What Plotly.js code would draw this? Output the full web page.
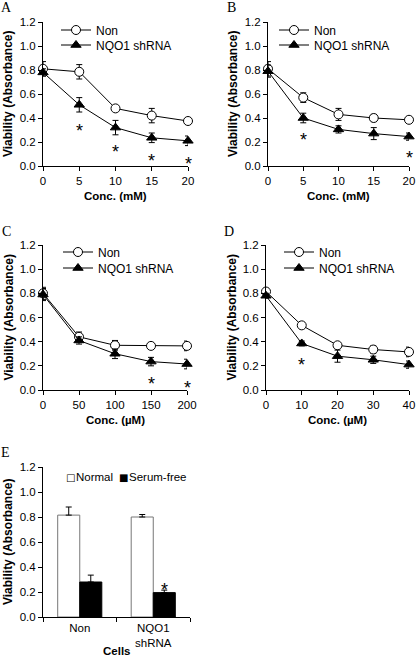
<!DOCTYPE html>
<html><head><meta charset="utf-8">
<script src="https://cdn.plot.ly/plotly-3.0.1.min.js"></script>
<style>html,body{margin:0;padding:0;background:#fff}</style>
</head><body><div id="chart" style="width:416px;height:659px"></div>
<script>
// ---- data ----
var concA = [0, 5, 10, 15, 20];          // mM
var nonA = [0.81, 0.785, 0.48, 0.42, 0.375];
var nonAerr = [0.06, 0.06, 0.02, 0.06, 0.02];
var shA = [0.78, 0.51, 0.32, 0.235, 0.21];
var shAerr = [0.03, 0.06, 0.06, 0.04, 0.04];
var starA_x = [5, 10, 15, 20];
var starA_y = [0.33, 0.16, 0.08, 0.06];

var concB = [0, 5, 10, 15, 20];          // mM
var nonB = [0.81, 0.57, 0.43, 0.40, 0.385];
var nonBerr = [0.06, 0.04, 0.05, 0.03, 0.02];
var shB = [0.79, 0.40, 0.305, 0.27, 0.245];
var shBerr = [0.05, 0.04, 0.03, 0.05, 0.03];
var starB_x = [5, 20];
var starB_y = [0.26, 0.11];

var concC = [0, 50, 100, 150, 200];      // uM
var nonC = [0.80, 0.44, 0.37, 0.365, 0.365];
var nonCerr = [0.05, 0.04, 0.04, 0.02, 0.04];
var shC = [0.79, 0.41, 0.30, 0.235, 0.215];
var shCerr = [0.05, 0.03, 0.04, 0.035, 0.04];
var starC_x = [150, 200];
var starC_y = [0.09, 0.06];

var concD = [0, 10, 20, 30, 40];         // uM
var nonD = [0.815, 0.535, 0.37, 0.335, 0.315];
var nonDerr = [0.02, 0.02, 0.02, 0.03, 0.04];
var shD = [0.78, 0.385, 0.28, 0.25, 0.21];
var shDerr = [0.02, 0.02, 0.05, 0.03, 0.03];
var starD_x = [10];
var starD_y = [0.25];

var cellsE = ['Non', 'NQO1<br>shRNA'];
var normalE = [0.815, 0.80];
var normalEerr = [0.065, 0.02];
var serumE = [0.28, 0.195];
var serumEerr = [0.055, 0.02];
var starE_y = 0.26;

var seriesNames = ['Non', 'NQO1 shRNA'];
var barNames = ['Normal', 'Serum-free'];
var yTicks = [0, 0.2, 0.4, 0.6, 0.8, 1.0, 1.2];

// ---- layout helpers ----
var W = 416, H = 659;
function px(x){ return x / W; }
function py(y){ return 1 - y / H; }
var FONT = 'Liberation Sans, Arial, sans-serif';
var SERIF = 'Liberation Serif, Times New Roman, serif';

var panels = [
  {key:'', xs:[43,188], ys:[22,166], x:concA, non:nonA, nonE:nonAerr, sh:shA, shE:shAerr, sx:starA_x, sy:starA_y, dtick:5, xt:'Conc. (mM)', letter:'A', leg:[56,30,45]},
  {key:'2', xs:[268,409], ys:[22,166], x:concB, non:nonB, nonE:nonBerr, sh:shB, shE:shBerr, sx:starB_x, sy:starB_y, dtick:5, xt:'Conc. (mM)', letter:'B', leg:[274,30,45]},
  {key:'3', xs:[43,187], ys:[245,390], x:concC, non:nonC, nonE:nonCerr, sh:shC, shE:shCerr, sx:starC_x, sy:starC_y, dtick:50, xt:'Conc. (\u00b5M)', letter:'C', leg:[58,252,268]},
  {key:'4', xs:[266,409], ys:[245,390], x:concD, non:nonD, nonE:nonDerr, sh:shD, shE:shDerr, sx:starD_x, sy:starD_y, dtick:10, xt:'Conc. (\u00b5M)', letter:'D', leg:[279,252,268]}
];

var traces = [];
var layout = {
  width: W, height: H, margin:{l:0,r:0,t:0,b:0},
  paper_bgcolor:'#fff', plot_bgcolor:'rgba(0,0,0,0)',
  font:{family:FONT, size:11.5, color:'#000'},
  annotations: [], showlegend: true, barmode:'group', bargap:0.4, bargroupgap:0
};

function axisY(ys, anchor){
  return {domain:[py(ys[1]), py(ys[0])], range:[0,1.2], tickvals:yTicks, tickformat:'.1f',
    ticks:'outside', ticklen:4, tickcolor:'#000', showline:true, linecolor:'#000', linewidth:1,
    showgrid:false, zeroline:false, anchor:anchor, tickfont:{size:11.5}, fixedrange:true};
}

var legIdx = 1;
function legName(){ var n = legIdx === 1 ? 'legend' : 'legend' + legIdx; legIdx++; return n; }
function addLegend(name, xpx, ypx){
  layout[name] = {x:px(xpx), y:py(ypx), xanchor:'left', yanchor:'middle', bgcolor:'rgba(0,0,0,0)',
    borderwidth:0, font:{size:12, family:FONT}, itemwidth:30, tracegroupgap:0, itemclick:false, itemdoubleclick:false};
}

panels.forEach(function(p){
  var xa = 'x' + p.key, ya = 'y' + p.key;
  layout['xaxis' + p.key] = {domain:[px(p.xs[0]), px(p.xs[1])], range:[0, p.x[p.x.length-1]], dtick:p.dtick,
    ticks:'outside', ticklen:4, tickcolor:'#000', showline:true, linecolor:'#000', linewidth:1,
    showgrid:false, zeroline:false, anchor:ya, tickfont:{size:11.5}, fixedrange:true};
  layout['yaxis' + p.key] = axisY(p.ys, xa);
  var l1 = legName(), l2 = legName();
  addLegend(l1, p.leg[0], p.leg[1]);
  addLegend(l2, p.leg[0], p.leg[2]);
  traces.push({type:'scatter', mode:'lines+markers', x:p.x, y:p.non, xaxis:xa, yaxis:ya, name:seriesNames[0],
    legend:l1, cliponaxis:false,
    line:{color:'#000', width:1}, marker:{symbol:'circle', size:9, color:'#fff', line:{color:'#000', width:1}},
    error_y:{type:'data', array:p.nonE, visible:true, color:'#000', thickness:1, width:3}});
  traces.push({type:'scatter', mode:'lines+markers', x:p.x, y:p.sh, xaxis:xa, yaxis:ya, name:seriesNames[1],
    legend:l2, cliponaxis:false,
    line:{color:'#000', width:1}, marker:{symbol:'triangle-up', size:9, color:'#000', line:{color:'#000', width:1}},
    error_y:{type:'data', array:p.shE, visible:true, color:'#000', thickness:1, width:3}});
  p.sx.forEach(function(sx, i){
    layout.annotations.push({x:sx, y:p.sy[i], xref:xa, yref:ya, text:'*', showarrow:false,
      font:{size:18, family:FONT}, yshift:-5});
  });
  var cx = (p.xs[0] + p.xs[1]) / 2, cy = (p.ys[0] + p.ys[1]) / 2;
  layout.annotations.push({x:px(cx), y:py(p.ys[1] + 30), xref:'paper', yref:'paper', text:'<b>' + p.xt + '</b>',
    showarrow:false, font:{size:11.5, family:FONT}, xanchor:'center', yanchor:'middle'});
  layout.annotations.push({x:px(p.xs[0] - 35), y:py(cy), xref:'paper', yref:'paper', text:'<b>Viability (Absorbance)</b>',
    showarrow:false, textangle:-90, font:{size:12, family:FONT}, xanchor:'center', yanchor:'middle'});
  layout.annotations.push({x:px(p.xs[0] - 37), y:py(p.ys[0] - 14), xref:'paper', yref:'paper', text:p.letter,
    showarrow:false, font:{size:14, family:SERIF}, xanchor:'center', yanchor:'middle'});
});

// Panel E
var eXs = [43,190], eYs = [467,617];
layout.xaxis5 = {domain:[px(eXs[0]), px(eXs[1])], range:[-0.5,1.5], type:'category', tickson:'boundaries',
  ticks:'outside', ticklen:4, tickcolor:'#000', showline:true, linecolor:'#000', linewidth:1,
  showgrid:false, zeroline:false, anchor:'y5', tickfont:{size:11.5}, fixedrange:true};
layout.yaxis5 = axisY(eYs, 'x5');
traces.push({type:'bar', x:cellsE, y:normalE, xaxis:'x5', yaxis:'y5', name:barNames[0], showlegend:false,
  marker:{color:'#fff', line:{color:'#777', width:1}},
  error_y:{type:'data', symmetric:false, array:normalEerr, arrayminus:[0,0], visible:true, color:'#000', thickness:1, width:3}});
traces.push({type:'bar', x:cellsE, y:serumE, xaxis:'x5', yaxis:'y5', name:barNames[1], showlegend:false,
  marker:{color:'#000', line:{color:'#000', width:1}},
  error_y:{type:'data', symmetric:false, array:serumEerr, arrayminus:[0,0], visible:true, color:'#000', thickness:1, width:3}});
// legend for E, drawn as text
layout.annotations.push({x:px(70), y:py(477), xref:'paper', yref:'paper', text:'\u25a1', showarrow:false,
  font:{size:10, family:'DejaVu Sans'}, xanchor:'center', yanchor:'middle'});
layout.annotations.push({x:px(74), y:py(477), xref:'paper', yref:'paper', text:barNames[0], showarrow:false,
  font:{size:11.5, family:FONT}, xanchor:'left', yanchor:'middle'});
layout.annotations.push({x:px(123), y:py(477), xref:'paper', yref:'paper', text:'\u25a0', showarrow:false,
  font:{size:10, family:'DejaVu Sans'}, xanchor:'center', yanchor:'middle'});
layout.annotations.push({x:px(127), y:py(477), xref:'paper', yref:'paper', text:barNames[1], showarrow:false,
  font:{size:11.5, family:FONT}, xanchor:'left', yanchor:'middle'});

layout.annotations.push({x:1, y:starE_y, xref:'x5', yref:'y5', text:'*', showarrow:false, xshift:11,
  font:{size:18, family:FONT}, yshift:-5});
layout.annotations.push({x:px((eXs[0]+eXs[1])/2), y:py(651), xref:'paper', yref:'paper', text:'<b>Cells</b>',
  showarrow:false, font:{size:11.5, family:FONT}, xanchor:'center', yanchor:'middle'});
layout.annotations.push({x:px(eXs[0] - 35), y:py((eYs[0]+eYs[1])/2), xref:'paper', yref:'paper', text:'<b>Viability (Absorbance)</b>',
  showarrow:false, textangle:-90, font:{size:12, family:FONT}, xanchor:'center', yanchor:'middle'});
layout.annotations.push({x:px(5), y:py(452), xref:'paper', yref:'paper', text:'E',
  showarrow:false, font:{size:14, family:SERIF}, xanchor:'center', yanchor:'middle'});

Plotly.newPlot('chart', traces, layout, {staticPlot:true, displayModeBar:false});
</script>
</body></html>
